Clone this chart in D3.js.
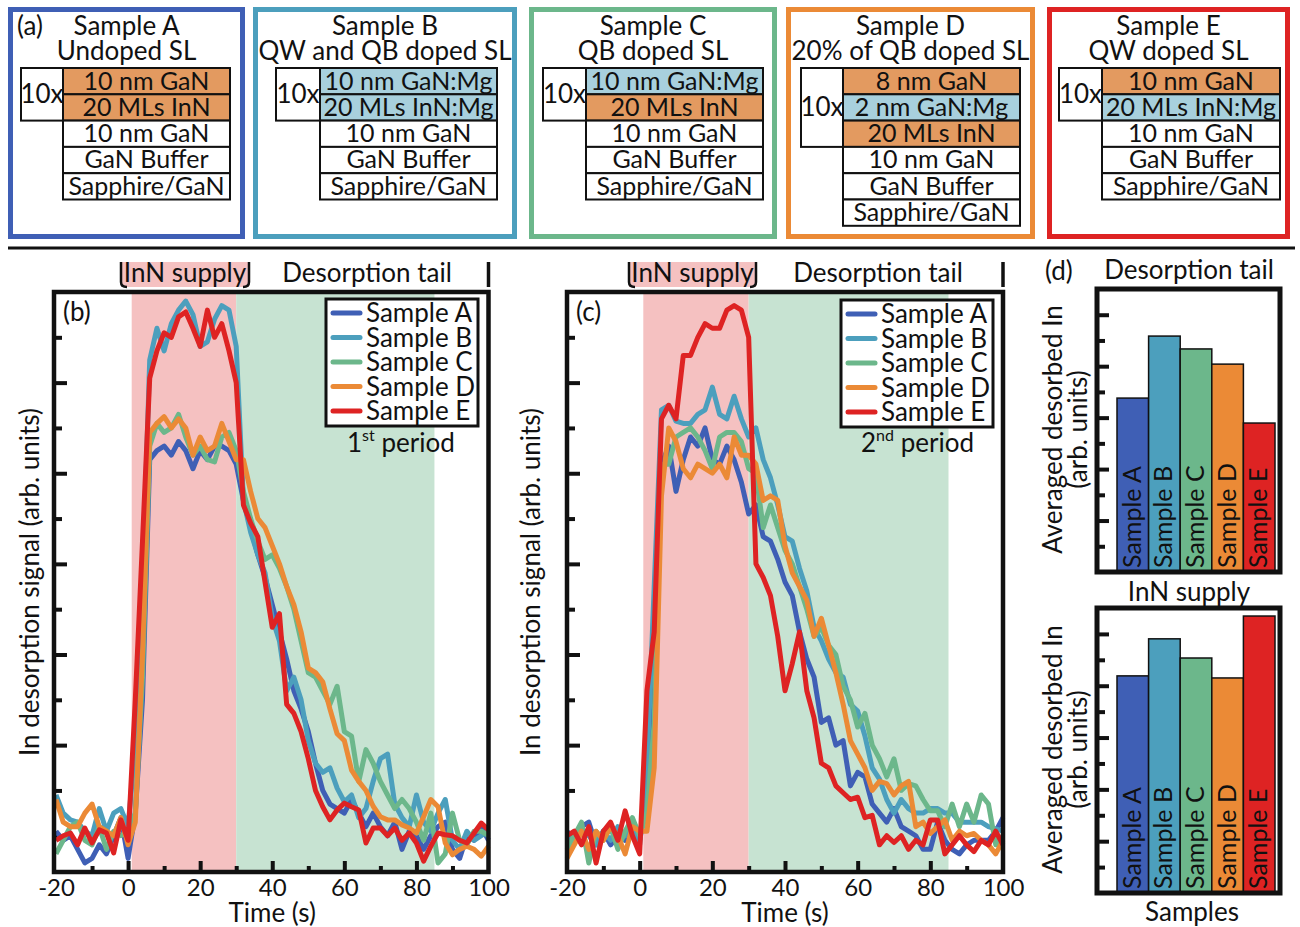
<!DOCTYPE html>
<html><head><meta charset="utf-8">
<script src="https://cdn.jsdelivr.net/npm/d3@7"></script>
<style>
body{margin:0;background:#fff}
svg{display:block}
text{font-family:Lato,"Open Sans",sans-serif;fill:#111}
</style>
</head><body>
<svg id="c" width="1300" height="927"></svg>
<script>
// ---------------- DATA ----------------
const samples = ["Sample A","Sample B","Sample C","Sample D","Sample E"];
const sampleDesc = ["Undoped SL","QW and QB doped SL","QB doped SL","20% of QB doped SL","QW doped SL"];
const periodLayers = [
  [["10 nm GaN","u"],["20 MLs InN","u"]],
  [["10 nm GaN:Mg","mg"],["20 MLs InN:Mg","mg"]],
  [["10 nm GaN:Mg","mg"],["20 MLs InN","u"]],
  [["8 nm GaN","u"],["2 nm GaN:Mg","mg"],["20 MLs InN","u"]],
  [["10 nm GaN","u"],["20 MLs InN:Mg","mg"]]
];
const baseLayers = ["10 nm GaN","GaN Buffer","Sapphire/GaN"];

const times = [-20,-18,-16,-14,-12,-10,-8,-6,-4,-2,0,2,4,6,8,10,12,14,16,18,20,22,24,26,28,30,
  32,34,36,38,40,42,44,46,48,50,52,54,56,58,60,62,64,66,68,70,72,74,76,78,80,82,84,86,88,90,92,94,96,98,100];

// 1st period (panel b)
const p1A = [0.1,-0.1,0.0,-0.3,-0.6,-0.5,-0.2,-0.4,0.0,0.4,-0.5,
  0.5,3.0,8.3,8.5,8.6,8.4,8.7,8.5,8.1,8.5,8.3,8.6,8.6,8.5,8.2,
  7.4,6.8,6.2,5.7,5.1,4.5,3.9,3.2,2.8,2.3,1.6,1.0,0.7,0.6,0.5,
  0.8,0.5,0.2,0.5,0.2,0.0,0.3,-0.3,0.1,0.0,-0.3,0.0,0.2,0.3,-0.3,-0.5,0.0,-0.1,0.2,-0.1];
const p1B = [0.9,0.5,0.35,0.3,0.1,0.0,0.6,0.1,0.5,0.6,0.2,
  2.0,5.5,10.5,11.2,10.7,11.3,11.6,11.8,11.5,10.8,10.9,11.4,11.7,11.6,10.8,
  7.4,6.7,6.2,5.8,4.8,4.3,3.2,3.5,3.0,2.1,1.6,1.4,1.5,1.05,0.75,
  0.9,0.4,0.6,1.2,1.7,1.8,0.7,0.4,0.2,0.9,0.3,0.1,0.5,0.8,-0.1,-0.3,0.1,-0.1,0.0,0.1];
const p1C = [-0.4,-0.1,0.2,0.3,-0.1,-0.2,0.2,-0.3,0.1,0.0,0.1,
  0.5,3.5,8.6,9.1,8.9,9.0,9.3,8.8,8.4,8.6,8.3,8.25,8.8,8.9,8.5,
  7.6,7.0,6.5,6.1,6.2,5.9,5.5,5.0,4.3,3.6,3.5,3.2,2.9,3.3,2.3,
  2.2,1.2,1.9,1.6,1.2,0.9,0.6,0.8,0.6,0.3,-0.1,0.5,-0.6,-0.4,0.5,-0.1,-0.2,0.1,0.1,0.0];
const p1D = [0.8,0.3,0.2,0.2,0.5,0.7,0.2,0.1,0.0,0.4,-0.2,
  0.3,4.0,8.9,9.1,9.25,9.0,9.2,9.0,8.4,8.8,8.5,8.6,9.1,8.7,8.3,
  8.3,7.6,7.0,6.8,6.4,6.0,5.5,5.1,4.5,3.7,3.6,3.4,2.8,2.25,2.1,
  1.45,1.2,1.0,0.65,0.42,0.35,0.35,0.24,0.17,0.06,0.42,0.8,0.64,-0.16,-0.42,-0.3,-0.23,-0.3,-0.45,-0.23];
const p1E = [-0.1,0.0,0.06,-0.2,0.17,-0.16,0.13,0.06,-0.38,0.35,-0.1,
  3.0,6.5,10.1,10.7,11.1,11.0,11.45,11.56,11.2,10.8,11.6,11.0,11.3,10.7,10.0,
  7.3,6.9,6.6,5.6,4.6,4.9,2.9,2.7,2.3,1.7,1.0,0.64,0.35,0.57,0.72,
  0.64,0.57,-0.16,0.17,0.17,0.0,0.17,-0.1,0.06,-0.16,-0.56,-0.23,0.06,0.02,0.0,-0.1,-0.16,0.06,0.28,0.13];

// 2nd period (panel c)
const p2A = [0.1,-0.1,0.2,0.3,-0.2,0.1,-0.2,0.0,-0.1,0.2,-0.1,
  0.8,3.0,8.2,8.6,7.6,8.3,8.8,8.6,9.0,8.3,8.2,8.6,8.3,7.8,7.1,
  7.3,6.6,6.5,6.1,5.6,5.3,4.5,3.9,3.5,2.5,2.6,2.0,2.1,1.1,1.4,
  1.3,0.7,0.5,0.3,0.6,0.2,0.1,0.0,-0.3,-0.3,0.3,-0.1,-0.3,-0.4,-0.2,-0.1,-0.1,-0.1,0.1,0.4];
const p2B = [0.0,-0.1,0.1,0.0,-0.2,0.1,-0.1,0.2,0.0,0.3,-0.2,
  1.5,5.5,9.4,9.5,9.15,9.1,9.1,9.3,9.4,9.9,9.3,9.2,9.7,9.2,8.8,
  9.0,8.3,7.9,7.3,6.6,6.5,5.9,5.4,4.6,4.3,3.9,3.6,3.5,2.9,2.75,
  2.2,1.5,1.25,0.8,0.5,0.8,0.6,0.5,0.5,0.6,0.6,0.5,0.5,0.3,0.3,0.3,0.3,0.2,0.15,0.1];
const p2C = [-0.3,0.0,0.3,-0.6,0.1,-0.1,0.2,-0.3,0.1,0.4,0.0,
  0.5,2.5,8.2,8.2,8.8,8.9,9.0,8.8,8.5,8.1,8.8,8.9,8.9,8.7,8.1,
  8.0,6.8,7.3,6.8,6.3,6.0,5.5,5.0,4.4,4.6,4.2,4.0,3.3,3.0,2.4,
  2.7,2.0,1.7,1.3,1.7,1.0,1.15,1.1,0.8,0.55,0.55,0.2,0.7,0.2,0.7,0.3,0.9,0.7,-0.2,0.0];
const p2D = [-0.5,-0.2,0.1,-0.3,0.1,-0.1,0.2,0.0,-0.4,0.2,0.1,
  0.1,1.5,7.5,9.0,8.7,8.1,7.9,8.2,8.1,8.0,8.2,7.9,8.8,8.4,8.4,
  8.2,7.4,7.5,7.4,6.4,5.8,5.5,5.2,4.4,4.8,4.2,3.6,2.9,2.1,1.8,
  1.5,1.0,1.2,1.15,0.9,1.1,1.2,0.2,0.3,0.05,0.2,0.35,-0.1,0.1,0.0,0.05,-0.1,-0.2,-0.4,-0.1];
const p2E = [0.0,0.1,-0.2,0.2,-0.6,0.1,0.3,-0.1,0.55,0.0,-0.4,
  3.2,4.5,9.2,9.5,9.2,10.6,10.6,11.0,11.3,11.2,11.2,11.6,11.7,11.6,11.0,
  6.0,5.7,5.3,4.4,3.2,3.8,4.5,3.2,2.6,1.6,1.5,1.1,0.95,0.8,0.85,
  0.4,0.45,-0.2,0.0,-0.15,0.0,-0.3,-0.1,-0.2,0.35,0.35,-0.4,-0.2,0.0,-0.2,-0.35,-0.1,-0.2,0.1,-0.2];

// averaged desorbed In (panel d)
const tailValues = [6.76,9.17,8.67,8.08,5.79];
const supplyValues = [8.38,9.81,9.07,8.30,10.69];

const xTickLabels = [-20,0,20,40,60,80,100];
const xMinorTicks = [-10,10,30,50,70,90];
const xMajorTicks = [0,20,40,60,80];
const yMajorTicks = [0,2,4,6,8,10];
const yMinorTicks = [1,3,5,7,9,11];
const supplyWindow = [1,30];
const tailWindow = [30,85];

// ---------------- STYLE ----------------
const colors = ["#3f5fb5","#4c9fbd","#6cb78b","#eb8a36","#de2323"];
const LAYER_OR = "#e39a60", LAYER_BL = "#a8d0dd";
const PINK = "#f5c1c1", GREEN = "#c7e3d2", INK = "#111";

const svg = d3.select("#c");

// separator line
svg.append("line").attr("x1",8).attr("x2",1295).attr("y1",248).attr("y2",248)
  .attr("stroke",INK).attr("stroke-width",3);

// ---------------- PANEL (a) ----------------
const boxX = [[8,245],[253,517],[529,777],[786,1035],[1047,1290]];
const tenX = [[21,63],[276,320],[543,586],[801,843],[1059,1102]];
const layerRight = [230,497,763,1020,1280];
samples.forEach((s,i)=>{
  const [x0,x1] = boxX[i];
  const g = svg.append("g");
  g.append("rect").attr("x",x0+2.5).attr("y",9.5).attr("width",x1-x0-5).attr("height",227)
    .attr("fill","#fff").attr("stroke",colors[i]).attr("stroke-width",5);
  const cx = (x0+x1)/2;
  g.append("text").attr("x",cx).attr("y",35).attr("text-anchor","middle").attr("font-size",26).text(s);
  g.append("text").attr("x",cx).attr("y",60).attr("text-anchor","middle").attr("font-size",26).text(sampleDesc[i]);
  const layers = periodLayers[i].map(d=>({name:d[0],type:d[1]})).concat(baseLayers.map(n=>({name:n,type:"base"})));
  const lh = 26.3, top = 68;
  const [t0,t1] = tenX[i];
  const nP = periodLayers[i].length;
  g.append("rect").attr("x",t0).attr("y",top).attr("width",t1-t0).attr("height",nP*lh)
    .attr("fill","#fff").attr("stroke",INK).attr("stroke-width",2);
  g.append("text").attr("x",(t0+t1)/2).attr("y",top+nP*lh/2+9).attr("text-anchor","middle")
    .attr("font-size",26).text("10x");
  layers.forEach((L,j)=>{
    g.append("rect").attr("x",t1).attr("y",top+j*lh).attr("width",layerRight[i]-t1).attr("height",lh)
      .attr("fill",L.type==="u"?LAYER_OR:(L.type==="mg"?LAYER_BL:"#fff"))
      .attr("stroke",INK).attr("stroke-width",2);
    g.append("text").attr("x",(t1+layerRight[i])/2).attr("y",top+j*lh+21.5).attr("text-anchor","middle")
      .attr("font-size",25).text(L.name);
  });
});
svg.append("text").attr("x",17).attr("y",35).attr("font-size",26).text("(a)");

// ---------------- PANELS (b),(c) ----------------
function drawPanel(o){
  const g = svg.append("g");
  const x = d3.scaleLinear().domain([-20,100]).range([o.x0,o.x1]);
  const y = d3.scaleLinear().domain([-0.8,12]).range([872,292]);
  // shading
  g.append("rect").attr("x",x(supplyWindow[0])).attr("y",292).attr("width",x(supplyWindow[1])-x(supplyWindow[0]))
    .attr("height",580).attr("fill",PINK);
  g.append("rect").attr("x",x(tailWindow[0])).attr("y",292).attr("width",x(tailWindow[1])-x(tailWindow[0]))
    .attr("height",580).attr("fill",GREEN);
  // axes ticks
  const ax = (sel)=>{sel.select(".domain").remove(); sel.selectAll("line").attr("stroke",INK).attr("stroke-width",4);
     sel.selectAll("text").attr("font-size",24).attr("fill",INK).style("font-family","Lato, 'Open Sans', sans-serif");};
  g.append("g").attr("transform","translate(0,872)")
    .call(d3.axisBottom(x).tickValues(xTickLabels).tickSize(0).tickPadding(7).tickFormat(d=>String(d))).call(ax);
  g.append("g").attr("transform","translate(0,872)")
    .call(d3.axisBottom(x).tickValues(xMajorTicks).tickSize(-11).tickFormat("")).call(ax);
  g.append("g").attr("transform","translate(0,872)")
    .call(d3.axisBottom(x).tickValues(xMinorTicks).tickSize(-6).tickFormat("")).call(ax);
  g.append("g").attr("transform",`translate(${o.fx0},0)`)
    .call(d3.axisLeft(y).tickValues(yMajorTicks).tickSize(-13).tickFormat("")).call(ax);
  g.append("g").attr("transform",`translate(${o.fx0},0)`)
    .call(d3.axisLeft(y).tickValues(yMinorTicks).tickSize(-8).tickFormat("")).call(ax);
  // lines
  const line = d3.line().x((d,i)=>x(times[i])).y(d=>y(d));
  o.series.forEach((s,i)=>{
    g.append("path").datum(s).attr("d",line).attr("fill","none").attr("stroke",colors[i])
      .attr("stroke-width",5).attr("stroke-linejoin","round");
  });
  // frame
  g.append("rect").attr("x",o.fx0).attr("y",292).attr("width",o.fx1-o.fx0).attr("height",580)
    .attr("fill","none").attr("stroke",INK).attr("stroke-width",4.5);
  // legend
  const L = o.legend;
  g.append("rect").attr("x",L.x).attr("y",L.y).attr("width",152).attr("height",127)
    .attr("fill","#fff").attr("stroke",INK).attr("stroke-width",3);
  samples.forEach((s,i)=>{
    const cy = L.y+14+i*24.5;
    g.append("line").attr("x1",L.x+7).attr("x2",L.x+34).attr("y1",cy).attr("y2",cy)
      .attr("stroke",colors[i]).attr("stroke-width",5).attr("stroke-linecap","round");
    g.append("text").attr("x",L.x+40).attr("y",cy+9).attr("font-size",26).text(s);
  });
  // period label
  const pt = g.append("text").attr("x",o.px).attr("y",452).attr("font-size",26);
  pt.append("tspan").text(o.pn);
  pt.append("tspan").attr("dy",-11).attr("font-size",16).text(o.sup);
  pt.append("tspan").attr("dy",11).text(" period");
  // panel letter
  g.append("text").attr("x",o.fx0+9).attr("y",321).attr("font-size",26).text(o.letter);
  // header
  const bx0 = o.hb[0], bx1 = o.hb[1];
  g.append("rect").attr("x",bx0).attr("y",262).attr("width",bx1-bx0).attr("height",25).attr("fill",PINK);
  g.append("path").attr("d",`M${bx0},262 V282 Q${bx0},287 ${bx0+6},287`).attr("fill","none").attr("stroke",INK).attr("stroke-width",2.5);
  g.append("path").attr("d",`M${bx1},262 V282 Q${bx1},287 ${bx1-6},287`).attr("fill","none").attr("stroke",INK).attr("stroke-width",2.5);
  g.append("text").attr("x",(bx0+bx1)/2).attr("y",282).attr("text-anchor","middle").attr("font-size",26).text("InN supply");
  g.append("text").attr("x",o.dtx).attr("y",282).attr("text-anchor","middle").attr("font-size",26).text("Desorption tail");
  g.append("line").attr("x1",o.fx1).attr("x2",o.fx1).attr("y1",262).attr("y2",287).attr("stroke",INK).attr("stroke-width",3.5);
  // axis titles
  g.append("text").attr("x",(o.x0+o.x1)/2).attr("y",922).attr("text-anchor","middle").attr("font-size",26).text("Time (s)");
  g.append("text").attr("transform",`translate(${o.yl},582) rotate(-90)`).attr("text-anchor","middle")
    .attr("font-size",26).text("In desorption signal (arb. units)");
}
drawPanel({x0:56,x1:488.5,fx0:54,fx1:488.5,series:[p1A,p1B,p1C,p1D,p1E],legend:{x:326,y:299},
  px:347,pn:"1",sup:"st",letter:"(b)",hb:[121,249],dtx:367,yl:39});
drawPanel({x0:567,x1:1003,fx0:567,fx1:1003,series:[p2A,p2B,p2C,p2D,p2E],legend:{x:841,y:300},
  px:861,pn:"2",sup:"nd",letter:"(c)",hb:[629,756],dtx:878,yl:540});

// ---------------- PANEL (d) ----------------
function drawBars(o){
  const g = svg.append("g");
  const x = d3.scaleBand().domain(samples).range([1117,1275]).padding(0);
  const y = d3.scaleLinear().domain([0,11]).range([o.yb,o.yt]);
  g.selectAll("rect.bar").data(o.values).enter().append("rect")
    .attr("x",(d,i)=>x(samples[i])).attr("width",x.bandwidth())
    .attr("y",d=>y(d)).attr("height",d=>y(0)-y(d))
    .attr("fill",(d,i)=>colors[i]).attr("stroke",INK).attr("stroke-width",1.5);
  samples.forEach((s,i)=>{
    g.append("text").attr("transform",`translate(${x(s)+x.bandwidth()/2+8},${o.yb-4}) rotate(-90)`)
      .attr("font-size",25).text(s);
  });
  const ax = (sel)=>{sel.select(".domain").remove(); sel.selectAll("line").attr("stroke",INK).attr("stroke-width",4);};
  g.append("g").attr("transform","translate(1097,0)")
    .call(d3.axisLeft(y).tickValues([2,4,6,8,10]).tickSize(-12).tickFormat("")).call(ax);
  g.append("g").attr("transform","translate(1097,0)")
    .call(d3.axisLeft(y).tickValues([1,3,5,7,9]).tickSize(-8).tickFormat("")).call(ax);
  g.append("rect").attr("x",1097).attr("y",o.yt).attr("width",183).attr("height",o.yb-o.yt)
    .attr("fill","none").attr("stroke",INK).attr("stroke-width",5);
  g.append("text").attr("x",1189).attr("y",o.ty).attr("text-anchor","middle").attr("font-size",26).text(o.title);
  const cy = (o.yt+o.yb)/2 - 1;
  g.append("text").attr("transform",`translate(1062,${cy}) rotate(-90)`).attr("text-anchor","middle")
    .attr("font-size",26).text("Averaged desorbed In");
  g.append("text").attr("transform",`translate(1087,${cy}) rotate(-90)`).attr("text-anchor","middle")
    .attr("font-size",26).text("(arb. units)");
}
drawBars({values:tailValues,yt:289,yb:572,title:"Desorption tail",ty:279});
drawBars({values:supplyValues,yt:608,yb:893,title:"InN supply",ty:601});
svg.append("text").attr("x",1045).attr("y",280).attr("font-size",26).text("(d)");
svg.append("text").attr("x",1192).attr("y",921).attr("text-anchor","middle").attr("font-size",26).text("Samples");
</script>
</body></html>
